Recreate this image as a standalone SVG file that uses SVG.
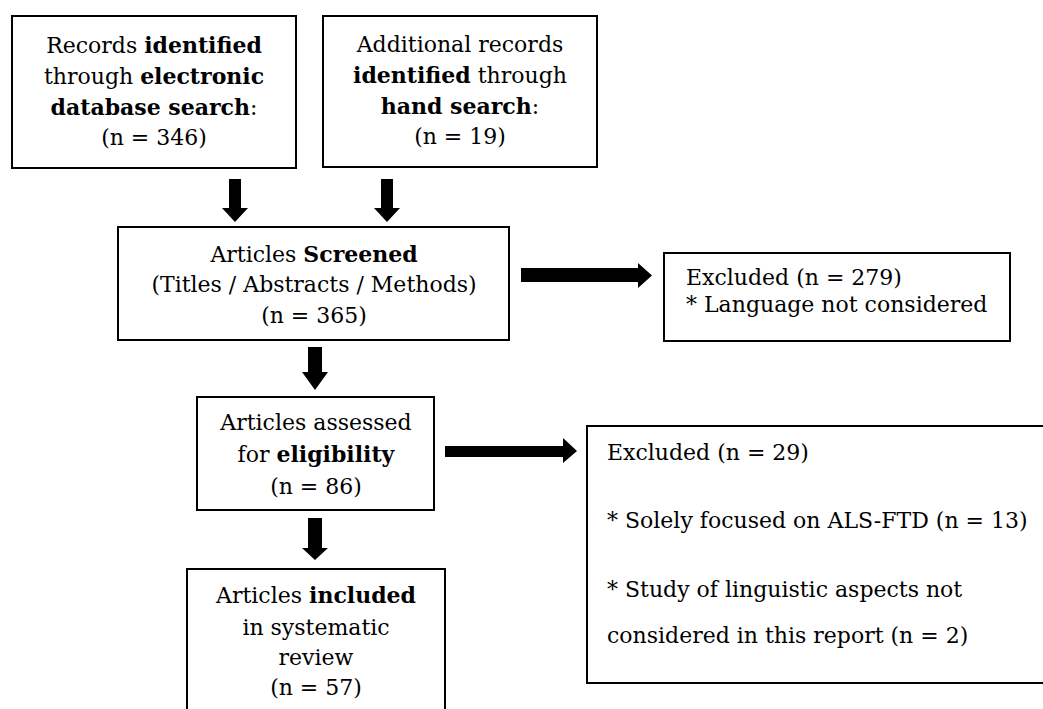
<svg xmlns="http://www.w3.org/2000/svg" width="1043" height="709" viewBox="0 0 1043 709">
  <style>
    .box { fill: #ffffff; stroke: #000000; stroke-width: 2; }
    .t { font-family: "DejaVu Serif", "Liberation Serif", serif; font-size: 22px; fill: #000000; }
    .c { text-anchor: middle; }
    .b { font-weight: bold; }
    .arrow { fill: #000000; stroke: none; }
  </style>
  <rect width="1043" height="709" fill="#ffffff"/>

  <g id="connectors">
    <!-- database search -> screening -->
    <polygon class="arrow" points="229,179 241,179 241,208 248,208 235,222 222,208 229,208"/>
    <!-- hand search -> screening -->
    <polygon class="arrow" points="381,179 393,179 393,208 400,208 387,222 374,208 381,208"/>
    <!-- screening -> eligibility -->
    <polygon class="arrow" points="308,347 322,347 322,372 328,372 315,390 302,372 308,372"/>
    <!-- eligibility -> included -->
    <polygon class="arrow" points="308,518 322,518 322,548 328,548 315,560 302,548 308,548"/>
    <!-- screening -> excluded (279) -->
    <polygon class="arrow" points="521,268 638,268 638,263 652,275.5 638,288 638,282 521,282"/>
    <!-- eligibility -> excluded (29) -->
    <polygon class="arrow" points="445,446 563,446 563,438 577,451 563,463 563,457 445,457"/>
  </g>

  <g id="database-search">
    <rect class="box" x="12" y="16" width="284" height="152"/>
    <text class="t c" x="154" y="53">Records <tspan class="b">identified</tspan></text>
    <text class="t c" x="154" y="84">through <tspan class="b">electronic</tspan></text>
    <text class="t c" x="154" y="115"><tspan class="b">database search</tspan>:</text>
    <text class="t c" x="154" y="145">(n = 346)</text>
  </g>

  <g id="hand-search">
    <rect class="box" x="323" y="16" width="274" height="151"/>
    <text class="t c" x="460" y="52">Additional records</text>
    <text class="t c" x="460" y="83"><tspan class="b">identified</tspan> through</text>
    <text class="t c" x="460" y="114"><tspan class="b">hand search</tspan>:</text>
    <text class="t c" x="460" y="144">(n = 19)</text>
  </g>

  <g id="screened">
    <rect class="box" x="118" y="227" width="391" height="113"/>
    <text class="t c" x="314" y="262">Articles <tspan class="b">Screened</tspan></text>
    <text class="t c" x="314" y="292">(Titles / Abstracts / Methods)</text>
    <text class="t c" x="314" y="323">(n = 365)</text>
  </g>

  <g id="excluded-screening">
    <rect class="box" x="664" y="253" width="346" height="88"/>
    <text class="t" x="686" y="285">Excluded (n = 279)</text>
    <text class="t" x="686" y="312">* Language not considered</text>
  </g>

  <g id="eligibility">
    <rect class="box" x="197" y="397" width="237" height="113"/>
    <text class="t c" x="316" y="430">Articles assessed</text>
    <text class="t c" x="316" y="462">for <tspan class="b">eligibility</tspan></text>
    <text class="t c" x="316" y="494">(n = 86)</text>
  </g>

  <g id="excluded-eligibility">
    <rect class="box" x="587" y="426" width="470" height="257"/>
    <text class="t" x="607" y="460">Excluded (n = 29)</text>
    <text class="t" x="607" y="528">* Solely focused on ALS-FTD (n = 13)</text>
    <text class="t" x="607" y="597">* Study of linguistic aspects not</text>
    <text class="t" x="607" y="643">considered in this report (n = 2)</text>
  </g>

  <g id="included">
    <rect class="box" x="187" y="569" width="258" height="160"/>
    <text class="t c" x="316" y="603">Articles <tspan class="b">included</tspan></text>
    <text class="t c" x="316" y="635">in systematic</text>
    <text class="t c" x="316" y="665">review</text>
    <text class="t c" x="316" y="695">(n = 57)</text>
  </g>
</svg>
